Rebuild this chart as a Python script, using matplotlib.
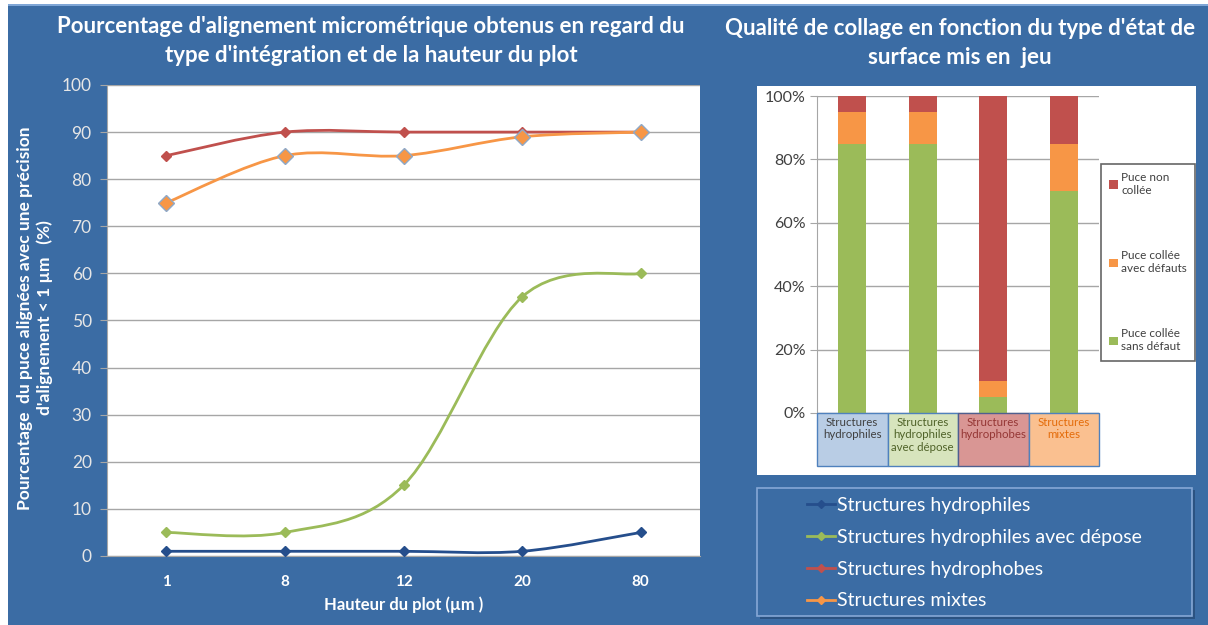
import numpy as np
import matplotlib
matplotlib.use("Agg")
import matplotlib.pyplot as plt
from matplotlib.path import Path
from matplotlib.patches import PathPatch, Rectangle
from matplotlib.lines import Line2D
import matplotlib.transforms as mtransforms

plt.rcParams['font.family'] = ['Lato', 'DejaVu Sans']

# ---- data: left chart (alignment %)
heights = ["1", "8", "12", "20", "80"]
hydrophiles = [1, 1, 1, 1, 5]
hydrophiles_depose = [5, 5, 15, 55, 60]
hydrophobes = [85, 90, 90, 90, 90]
mixtes = [75, 85, 85, 89, 90]

line_names = ["Structures hydrophiles", "Structures hydrophiles avec dépose",
              "Structures hydrophobes", "Structures mixtes"]

# ---- data: right chart (bonding quality, %)
categories = ["Structures\nhydrophiles", "Structures\nhydrophiles\navec dépose",
              "Structures\nhydrophobes", "Structures\nmixtes"]
sans_defaut = [85, 85, 5, 70]
avec_defauts = [10, 10, 5, 15]
non_collee = [5, 5, 90, 15]
stack_names = ["Puce collée\nsans défaut", "Puce collée\navec défauts", "Puce non\ncollée"]

BLUE_BG = "#3B6CA4"
C_DBLUE = "#254E8C"
C_GREEN = "#9BBB59"
C_RED = "#C0504D"
C_ORANGE = "#F79646"

W, H = 1208, 625


def fx(px):
    return px / W


def fy(py):
    return 1 - py / H


def smooth_path(xs, ys):
    # excel-like smoothed line (catmull-rom as cubic bezier)
    p = np.column_stack([xs, ys]).astype(float)
    pp = np.vstack([p[0], p, p[-1]])
    verts = [p[0]]
    codes = [Path.MOVETO]
    for i in range(len(p) - 1):
        p0, p1, p2, p3 = pp[i], pp[i + 1], pp[i + 2], pp[i + 3]
        c1 = p1 + (p2 - p0) / 6
        c2 = p2 - (p3 - p1) / 6
        verts += [c1, c2, p2]
        codes += [Path.CURVE4] * 3
    return Path(verts, codes)


fig = plt.figure(figsize=(W / 100, H / 100), dpi=100)
fig.patch.set_facecolor("white")
fig.patches.append(Rectangle((fx(8), 0), fx(1200), 1 - 4 / H, transform=fig.transFigure,
                             facecolor=BLUE_BG, edgecolor="none", zorder=0))
fig.patches.append(Rectangle((fx(8), fy(6)), fx(1200), 2 / H, transform=fig.transFigure,
                             facecolor="#7FA6D6", edgecolor="none", zorder=0))

# ================= left chart
ax = fig.add_axes([fx(107), fy(556), fx(593), (556 - 85) / H])
ax.set_zorder(2)
ax.set_facecolor("white")
x = np.arange(len(heights))
series = [(hydrophiles, C_DBLUE, 5, C_DBLUE),
          (hydrophiles_depose, C_GREEN, 5, C_GREEN),
          (hydrophobes, C_RED, 5, C_RED),
          (mixtes, C_ORANGE, 8, "#8EA9C8")]
handles = []
for vals, col, ms, mec in series:
    ax.add_patch(PathPatch(smooth_path(x, vals), fill=False, edgecolor=col, lw=2, zorder=3))
    ax.plot(x, vals, linestyle="none", marker="D", ms=ms, color=col, mec=mec, mew=1, zorder=4)
    handles.append(Line2D([], [], color=col, lw=2, marker="D", ms=4, mec=col))

ax.set_xlim(-0.5, 4.5)
ax.set_ylim(0, 100)
ax.set_yticks(range(0, 101, 10))
ax.set_xticks(x)
ax.set_xticklabels(heights, fontweight="bold")
ax.grid(axis="y", color="#A6A6A6", lw=1)
ax.set_axisbelow(True)
for s in ["top", "right"]:
    ax.spines[s].set_visible(False)
ax.spines["left"].set_color("#A6A6A6")
ax.spines["bottom"].set_color("#A6A6A6")
ax.tick_params(axis="y", colors="#A6A6A6", labelcolor="#E6E6E6", labelsize=12.5, length=5, pad=6)
ax.tick_params(axis="x", colors="white", labelsize=11, length=0, pad=14)
ax.set_xlabel("Hauteur du plot (µm )", color="white", fontsize=12, fontweight="bold", labelpad=5)

fig.text(fx(35), fy(318), "Pourcentage  du puce alignées avec une précision\nd'alignement < 1 µm   (%)",
         rotation=90, ha="center", va="center", multialignment="center",
         color="white", fontsize=12.5, fontweight="bold", linespacing=1.2)

fig.text(fx(371), fy(41), "Pourcentage d'alignement micrométrique obtenus en regard du\ntype d'intégration et de la hauteur du plot",
         ha="center", va="center", multialignment="center", color="white",
         fontsize=16, fontweight="bold", linespacing=1.45)

fig.text(fx(960), fy(43), "Qualité de collage en fonction du type d'état de\nsurface mis en  jeu",
         ha="center", va="center", multialignment="center", color="white",
         fontsize=16, fontweight="bold", linespacing=1.45)

# ================= right chart
fig.patches.append(Rectangle((fx(757), fy(475)), fx(439), (475 - 86) / H, transform=fig.transFigure,
                             facecolor="white", edgecolor="none", zorder=0.5))

ax2 = fig.add_axes([fx(817), fy(413), fx(282), (413 - 96) / H])
ax2.set_zorder(2)
ax2.set_facecolor("none")
xc = np.arange(len(categories))
b1 = ax2.bar(xc, sans_defaut, width=0.4, color=C_GREEN, zorder=3)
b2 = ax2.bar(xc, avec_defauts, width=0.4, bottom=sans_defaut, color=C_ORANGE, zorder=3)
bottom3 = np.array(sans_defaut) + np.array(avec_defauts)
b3 = ax2.bar(xc, non_collee, width=0.4, bottom=bottom3, color=C_RED, zorder=3)
ax2.set_xlim(-0.5, 3.5)
ax2.set_ylim(0, 100)
ax2.set_yticks(range(0, 101, 20))
ax2.set_yticklabels([f"{v}%" for v in range(0, 101, 20)])
ax2.grid(axis="y", color="#A6A6A6", lw=1)
ax2.set_axisbelow(True)
for s in ["top", "right", "bottom"]:
    ax2.spines[s].set_visible(False)
ax2.spines["left"].set_color("#A6A6A6")
ax2.set_xticks([])
ax2.tick_params(axis="y", colors="#A6A6A6", labelcolor="#404040", labelsize=11.5, length=5, pad=3)

box_fc = ["#B9CDE5", "#D7E4BD", "#D99694", "#FAC090"]
box_ec = ["#4F81BD", "#4F81BD", "#4F5F8F", "#4F81BD"]
box_tc = ["#404040", "#4F6228", "#953735", "#E46C0A"]
trans = mtransforms.blended_transform_factory(ax2.transData, ax2.transAxes)
box_h = 53 / 317
for i, lab in enumerate(categories):
    ax2.add_patch(Rectangle((i - 0.5, -box_h), 1, box_h, transform=trans, clip_on=False,
                            facecolor=box_fc[i], edgecolor=box_ec[i], lw=1, zorder=5))
    ax2.text(i, -0.012, lab, transform=trans, ha="center", va="top", fontsize=8.3,
             color=box_tc[i], linespacing=1.15, zorder=6)

leg2 = ax2.legend([b3, b2, b1], stack_names[::-1], loc="upper left",
                  bbox_to_anchor=(fx(1101), fy(164)), bbox_transform=fig.transFigure,
                  frameon=True, fancybox=False, edgecolor="#404040", fontsize=8.5,
                  handlelength=0.7, handleheight=0.7, handletextpad=0.3,
                  labelspacing=4.6, borderpad=0.7, borderaxespad=0)
leg2.get_frame().set_linewidth(1.2)
for t in leg2.get_texts():
    t.set_color("#404040")

# ================= bottom legend of the line chart
fig.patches.append(Rectangle((fx(760), fy(619)), fx(435), (619 - 490) / H, transform=fig.transFigure,
                             facecolor="#2B5281", edgecolor="none", zorder=0.6))
fig.patches.append(Rectangle((fx(757), fy(616)), fx(435), (616 - 488) / H, transform=fig.transFigure,
                             facecolor=BLUE_BG, edgecolor="#86A8D6", lw=1.2, zorder=0.7))
fig.legend(handles, line_names, loc="upper left", bbox_to_anchor=(fx(807), fy(497)),
           frameon=False, fontsize=14, labelcolor="white", handlelength=1.45,
           handletextpad=0.1, labelspacing=0.76, borderaxespad=0, borderpad=0)

fig.savefig("out.png", dpi=100, facecolor=fig.get_facecolor())
